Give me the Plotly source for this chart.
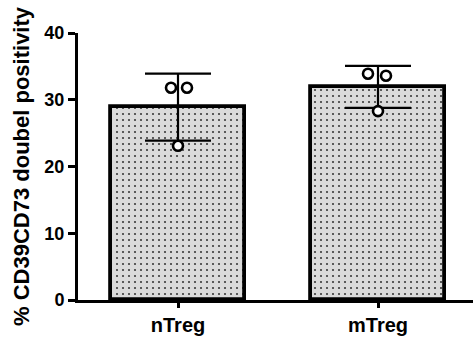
import numpy as np
import plotly.graph_objects as go

# Groups and per-donor measurements (% CD39+CD73+ cells)
groups = ["nTreg", "mTreg"]
ntreg_values = [31.8, 31.8, 23.1]
mtreg_values = [33.9, 33.6, 28.3]
# Horizontal scatter of the individual points within each bar
ntreg_jitter = [-0.035, 0.045, 0.0]
mtreg_jitter = [-0.05, 0.04, 0.0]

y_ticks = [0, 10, 20, 30, 40]

all_values = [ntreg_values, mtreg_values]
all_jitter = [ntreg_jitter, mtreg_jitter]
means = [float(np.mean(v)) for v in all_values]
sds = [float(np.std(v, ddof=1)) for v in all_values]
positions = list(range(len(groups)))

font_family = "Liberation Sans, Arial, sans-serif"

fig = go.Figure()

fig.add_trace(go.Bar(
    x=positions,
    y=means,
    width=0.67,
    marker=dict(
        color="#dadada",
        line=dict(color="black", width=3.8),
        pattern=dict(shape=".", size=6, solidity=0.1,
                     fgcolor="#3a3a3a", bgcolor="#dadada", fillmode="replace"),
    ),
    error_y=dict(type="data", array=sds, visible=True,
                 color="black", thickness=2.2, width=33),
    showlegend=False,
    hoverinfo="skip",
))

px_, py_ = [], []
for p, vals, jit in zip(positions, all_values, all_jitter):
    for v, j in zip(vals, jit):
        px_.append(p + j)
        py_.append(v)

fig.add_trace(go.Scatter(
    x=px_, y=py_, mode="markers",
    marker=dict(symbol="circle", size=10, color="white",
                line=dict(color="black", width=2.6)),
    showlegend=False, hoverinfo="skip",
))

fig.update_layout(
    width=473, height=340,
    margin=dict(l=78, r=0, t=33, b=40),
    paper_bgcolor="white", plot_bgcolor="white",
    font=dict(family=font_family, color="black"),
    bargap=0,
)

fig.update_xaxes(
    range=[-0.5, 1.475],
    tickmode="array", tickvals=positions, ticktext=[f"<b>{g}</b>" for g in groups],
    tickfont=dict(size=20, family=font_family),
    showline=True, linecolor="black", linewidth=3,
    ticks="outside", ticklen=5, tickwidth=2.5, tickcolor="black",
    showgrid=False, zeroline=False,
)

fig.update_yaxes(
    range=[0, 40],
    tickmode="array", tickvals=y_ticks, ticktext=[f"<b>{t}</b>" for t in y_ticks],
    tickfont=dict(size=18, family=font_family),
    showline=True, linecolor="black", linewidth=3,
    ticks="outside", ticklen=7, tickwidth=2.5, tickcolor="black",
    showgrid=False, zeroline=False,
    title=dict(text="<b>% CD39CD73 doubel positivity</b>",
               font=dict(size=22, family=font_family), standoff=9),
)

fig.write_html("out.html")
